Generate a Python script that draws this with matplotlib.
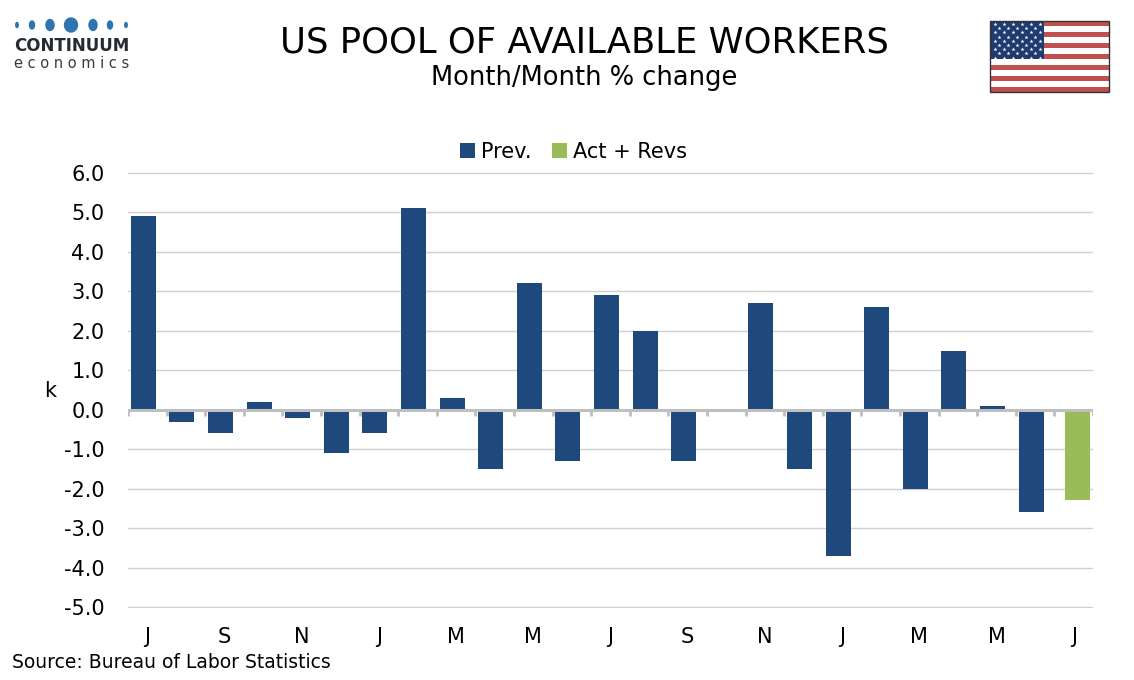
import matplotlib
matplotlib.use("Agg")
import matplotlib.pyplot as plt
import numpy as np
from matplotlib.patches import Rectangle, Ellipse

plt.rcParams['font.family'] = ['DejaVu Sans']

# monthly data, Jul 2023 .. Jul 2025
months = ["J", "A", "S", "O", "N", "D", "J", "F", "M", "A", "M", "J", "J",
          "A", "S", "O", "N", "D", "J", "F", "M", "A", "M", "J", "J"]
prev = [4.9, -0.3, -0.6, 0.2, -0.2, -1.1, -0.6, 5.1, 0.3, -1.5, 3.2, -1.3, 2.9,
        2.0, -1.3, 0.0, 2.7, -1.5, -3.7, 2.6, -2.0, 1.5, 0.1, -2.6, np.nan]
act = [np.nan] * 24 + [-2.3]

blue = "#1F497D"
green = "#9BBB59"

fig = plt.figure(figsize=(11.34, 6.8), dpi=100)
ax = fig.add_axes([128 / 1134, 1 - 608 / 680, (1093 - 128) / 1134, (608 - 172) / 680])

x = np.arange(len(months))
ax.bar(x - 0.105, prev, width=0.65, color=blue, label="Prev.", zorder=3)
ax.bar(x + 0.105, act, width=0.65, color=green, label="Act + Revs", zorder=3)

ax.set_xlim(-0.5, len(months) - 0.5)
ax.set_ylim(-5.025, 6.025)
ax.set_yticks(np.arange(-5, 7, 1))
ax.set_yticklabels([f"{v:.1f}" for v in np.arange(-5, 7, 1)])
ax.set_xticks(x[::2])
ax.set_xticklabels(months[::2])
ax.tick_params(axis="both", length=0, labelsize=15, colors="#000000")
ax.tick_params(axis="x", pad=14)
ax.tick_params(axis="y", pad=17)
for s in ax.spines.values():
    s.set_visible(False)
ax.grid(axis="y", color="#D0D0D0", linewidth=1, zorder=0)

# zero line with category tick marks
ax.axhline(0, color="#BFBFBF", linewidth=2.2, zorder=4)
bounds = np.arange(-0.5, len(months), 1.0)
ax.vlines(bounds, -0.17, 0, color="#BFBFBF", linewidth=2, zorder=4)

ax.set_ylabel("k", rotation=0, fontsize=15)
ax.yaxis.set_label_coords(-0.081, 0.475)

leg = ax.legend(loc="lower center", bbox_to_anchor=(0.462, 1.0), ncol=2, frameon=False,
                fontsize=15, handlelength=0.7, handleheight=0.7, handletextpad=0.3,
                columnspacing=1.0, borderaxespad=0.1)

fig.text(0.515, 0.938, "US POOL OF AVAILABLE WORKERS", ha="center", va="center",
         fontsize=25.5, color="#000000")
fig.text(0.515, 0.886, "Month/Month % change", ha="center", va="center",
         fontsize=18.5, color="#000000")
fig.text(12 / 1134, 1 - 663 / 680, "Source: Bureau of Labor Statistics", ha="left",
         va="center", fontsize=13.5, color="#000000")

# overlay in pixel coords for logo and flag
ov = fig.add_axes([0, 0, 1, 1], zorder=10)
ov.set_xlim(0, 1134)
ov.set_ylim(680, 0)
ov.axis("off")

dot_x = [17, 32, 50, 71, 93, 110, 126]
dot_w = [2.5, 5, 8, 13, 8, 5, 2.5]
dot_h = [5, 8, 11, 14, 11, 8, 5]
for dx, dw, dh in zip(dot_x, dot_w, dot_h):
    ov.add_patch(Ellipse((dx, 25), dw, dh, color="#2E75B0"))
ov.text(72, 46, "CONTINUUM", ha="center", va="center", fontsize=12,
        fontweight="bold", color="#262B33", family="DejaVu Sans Condensed")
ov.text(72, 64, "e c o n o m i c s", ha="center", va="center", fontsize=10.5,
        color="#3A3A3A")

fx0, fx1, fy0, fy1 = 990, 1109, 21, 92
sh = (fy1 - fy0) / 13
for i in range(13):
    ov.add_patch(Rectangle((fx0, fy0 + i * sh), fx1 - fx0, sh,
                           color="#C0504D" if i % 2 == 0 else "white", lw=0))
ov.add_patch(Rectangle((fx0, fy0), 54, 7 * sh, color="#1F3A6E", lw=0))
sx, sy = [], []
for r in range(9):
    n = 6 if r % 2 == 0 else 5
    off = 4.5 if r % 2 == 0 else 9
    for c in range(n):
        sx.append(fx0 + off + c * 9)
        sy.append(fy0 + 3 + r * 4.2)
ov.scatter(sx, sy, marker="*", s=9, color="white", linewidths=0)
ov.add_patch(Rectangle((fx0, fy0), fx1 - fx0, fy1 - fy0, fill=False,
                       edgecolor="#333333", lw=1))

fig.savefig("out.png", dpi=100)
